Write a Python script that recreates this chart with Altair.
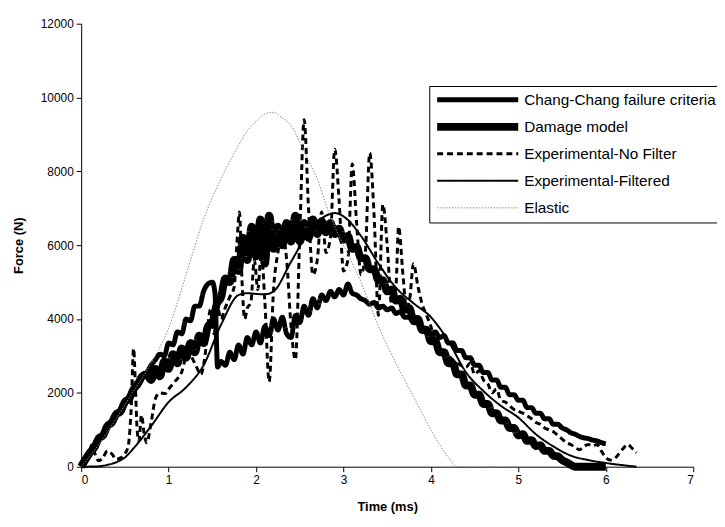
import altair as alt
import pandas as pd

SERIES = ["Chang-Chang failure criteria", "Damage model", "Experimental-No Filter",
          "Experimental-Filtered", "Elastic"]

# Chang-Chang failure criteria (lower thick curve, ends ~600 N at 6 ms)
chang_x = [0, 0.05, 0.1, 0.15, 0.2, 0.25, 0.3, 0.35, 0.4, 0.45, 0.5, 0.55, 0.6, 0.65, 0.7, 0.75,
           0.8, 0.85, 0.9, 0.95, 1.0, 1.05, 1.1, 1.15, 1.2, 1.25, 1.3, 1.35, 1.4, 1.45, 1.5, 1.53,
           1.56, 1.6, 1.65, 1.7, 1.75, 1.8, 1.85, 1.9, 1.95, 2.0, 2.05, 2.1, 2.15, 2.2, 2.25, 2.3,
           2.35, 2.4, 2.45, 2.5, 2.55, 2.6, 2.65, 2.7, 2.75, 2.8, 2.85, 2.9, 2.95, 3.0, 3.05, 3.1,
           3.15, 3.2, 3.25, 3.3, 3.35, 3.4, 3.45, 3.5, 3.55, 3.6, 3.65, 3.7, 3.75, 3.8, 3.85, 3.9,
           3.95, 4.0, 4.05, 4.1, 4.15, 4.2, 4.25, 4.3, 4.35, 4.4, 4.45, 4.5, 4.55, 4.6, 4.65, 4.7,
           4.75, 4.8, 4.85, 4.9, 4.95, 5.0, 5.05, 5.1, 5.15, 5.2, 5.25, 5.3, 5.35, 5.4, 5.45, 5.5,
           5.55, 5.6, 5.65, 5.7, 5.75, 5.8, 5.85, 5.9, 5.95, 6.0]
chang_y = [0, 200, 380, 520, 760, 850, 1100, 1200, 1420, 1500, 1750, 1850, 2100, 2250, 2450, 2550,
           2750, 2900, 3050, 3000, 3350, 3300, 3650, 3600, 4000, 3950, 4350, 4350, 4750, 4950, 5000, 4700,
           2700, 2850, 2750, 3100, 2900, 3300, 3050, 3500, 3300, 3650, 3350, 3800, 3550, 4000, 3700, 4050,
           3600, 3500, 4100, 3900, 4350, 4100, 4550, 4300, 4650, 4500, 4750, 4600, 4800, 4650, 4950, 4700,
           4650, 4550, 4500, 4400, 4450, 4300, 4350, 4250, 4300, 4150, 4200, 4050, 4050, 3900, 3900, 3750,
           3750, 3600, 3650, 3500, 3550, 3350, 3350, 3150, 3150, 2950, 2950, 2750, 2750, 2550, 2550, 2350,
           2350, 2150, 2150, 1950, 1950, 1800, 1800, 1600, 1600, 1450, 1450, 1300, 1300, 1150, 1150, 1050,
           1000, 920, 880, 820, 780, 760, 720, 700, 650, 620]

# Damage model (upper thick curve, ends at 0 N near 5.65 ms)
damage_x = [0, 0.05, 0.1, 0.15, 0.2, 0.25, 0.3, 0.35, 0.4, 0.45, 0.5, 0.55, 0.6, 0.65, 0.7, 0.75,
            0.8, 0.85, 0.9, 0.95, 1.0, 1.05, 1.1, 1.15, 1.2, 1.25, 1.3, 1.35, 1.4, 1.45, 1.5, 1.55,
            1.6, 1.65, 1.7, 1.75, 1.8, 1.85, 1.9, 1.95, 2.0, 2.05, 2.1, 2.15, 2.2, 2.25, 2.3, 2.35,
            2.4, 2.45, 2.5, 2.55, 2.6, 2.65, 2.7, 2.75, 2.8, 2.85, 2.9, 2.95, 3.0, 3.05, 3.1, 3.15,
            3.2, 3.25, 3.3, 3.35, 3.4, 3.45, 3.5, 3.55, 3.6, 3.65, 3.7, 3.75, 3.8, 3.85, 3.9, 3.95,
            4.0, 4.05, 4.1, 4.15, 4.2, 4.25, 4.3, 4.35, 4.4, 4.45, 4.5, 4.55, 4.6, 4.65, 4.7, 4.75,
            4.8, 4.85, 4.9, 4.95, 5.0, 5.05, 5.1, 5.15, 5.2, 5.25, 5.3, 5.35, 5.4, 5.45, 5.5, 5.55,
            5.6, 5.65, 5.7, 5.8, 5.9, 6.0]
damage_y = [0, 200, 380, 520, 760, 850, 1100, 1200, 1420, 1500, 1750, 1850, 2100, 2250, 2450, 2500,
            2350, 2650, 2450, 2850, 2650, 3050, 2800, 3200, 2950, 3350, 3100, 3550, 3350, 3800, 3900, 4400,
            4600, 5100, 5000, 5600, 5300, 6200, 5600, 6500, 5700, 6700, 5500, 6800, 5900, 6500, 6000, 6600,
            6100, 6800, 6100, 6600, 6200, 6700, 6300, 6650, 6350, 6600, 6300, 6450, 6150, 6250, 5900, 5950,
            5650, 5650, 5350, 5350, 5050, 5050, 4750, 4800, 4500, 4550, 4250, 4300, 4000, 4000, 3700, 3700,
            3400, 3400, 3100, 3100, 2800, 2800, 2500, 2500, 2200, 2200, 1950, 1950, 1700, 1700, 1450, 1450,
            1250, 1250, 1050, 1050, 850, 880, 700, 720, 560, 580, 430, 430, 300, 280, 180, 120,
            50, 0, 0, 0, 0, 0]

# Experimental - no filter (dashed, noisy)
nofilt_x = [0, 0.05, 0.1, 0.12, 0.15, 0.2, 0.25, 0.3, 0.35, 0.4, 0.45, 0.5, 0.54, 0.57, 0.6, 0.62,
            0.64, 0.66, 0.69, 0.72, 0.75, 0.8, 0.85, 0.9, 0.96, 1.0, 1.07, 1.15, 1.22, 1.3, 1.37, 1.41,
            1.48, 1.52, 1.56, 1.6, 1.64, 1.7, 1.75, 1.78, 1.81, 1.84, 1.87, 1.9, 1.94, 1.98, 2.02, 2.06,
            2.1, 2.15, 2.2, 2.25, 2.3, 2.35, 2.4, 2.45, 2.5, 2.55, 2.6, 2.65, 2.7, 2.75, 2.8, 2.85,
            2.9, 2.95, 3.0, 3.05, 3.1, 3.15, 3.2, 3.25, 3.3, 3.35, 3.4, 3.45, 3.5, 3.55, 3.6, 3.63,
            3.68, 3.72, 3.76, 3.8, 3.85, 3.9, 3.95, 4.0, 4.05, 4.1, 4.2, 4.3, 4.4, 4.45, 4.5, 4.55,
            4.6, 4.65, 4.7, 4.75, 4.8, 4.85, 4.9, 4.95, 5.0, 5.05, 5.1, 5.15, 5.2, 5.25, 5.3, 5.35,
            5.4, 5.45, 5.5, 5.55, 5.6, 5.65, 5.7, 5.75, 5.8, 5.85, 5.9, 5.95, 6.0, 6.05, 6.1, 6.15,
            6.2, 6.25, 6.3, 6.35]
nofilt_y = [0, 150, 450, 590, 400, 160, 250, 430, 350, 200, 240, 350, 590, 1500, 3200, 2200,
            1000, 700, 1400, 900, 650, 1200, 1850, 2000, 1980, 2100, 2300, 2570, 3100, 2800, 2500, 2900,
            4260, 3600, 4300, 4000, 4260, 4600, 4870, 6000, 6900, 5000, 4000, 4300, 4440, 5600, 4800, 5800,
            4500, 2300, 4800, 5800, 6300, 5600, 3800, 2900, 6300, 9400, 7000, 5200, 5600, 6900, 5800, 6200,
            8600, 7200, 5300, 5600, 8200, 6600, 5200, 5800, 8500, 6800, 4100, 7100, 6000, 4400, 4900, 6500,
            5200, 4300, 4600, 5500, 4900, 4400, 4100, 3800, 3400, 3150, 3000, 2800, 2700, 2800, 2500, 2600,
            2350, 2250, 2000, 2100, 1800, 1750, 1650, 1550, 1500, 1450, 1380, 1300, 1200, 1150, 1050, 1000,
            950, 850, 750, 650, 600, 520, 460, 550, 600, 560, 600, 420, 250, 180, 220, 350,
            500, 600, 500, 380]

# Experimental - filtered (thin solid, smooth)
filt_x = [0, 0.2, 0.3, 0.4, 0.5, 0.6, 0.8, 1.0, 1.2, 1.4, 1.6, 1.8, 1.9, 2.0, 2.1, 2.2, 2.4, 2.6,
          2.8, 2.9, 3.0, 3.2, 3.4, 3.6, 3.8, 4.0, 4.2, 4.4, 4.6, 4.8, 5.0, 5.2, 5.4, 5.6, 5.8, 6.0,
          6.2, 6.35]
filt_y = [0, 10, 50, 120, 250, 500, 1100, 1750, 2150, 2750, 3850, 4650, 4700, 4680, 4670, 4750, 5550, 6350,
          6800, 6870, 6780, 6250, 5500, 4850, 4430, 4050, 3400, 2560, 2050, 1650, 1330, 880, 550, 300, 180, 100,
          40, 0]

# Elastic (thin grey dotted)
elastic_x = [0, 0.2, 0.4, 0.6, 0.8, 1.0, 1.2, 1.4, 1.6, 1.8, 1.9, 2.0, 2.1, 2.2, 2.3, 2.4, 2.5, 2.6,
             2.7, 2.8, 2.9, 3.0, 3.2, 3.4, 3.6, 3.8, 4.0, 4.2, 4.3, 4.6, 5.0]
elastic_y = [0, 600, 1300, 2050, 2800, 3750, 5200, 6700, 7800, 8700, 9100, 9350, 9550, 9600, 9450, 9250, 8800, 8300,
             7800, 7100, 6500, 6000, 5000, 3800, 2800, 1900, 1000, 250, 0, 0, 0]

rows = []
for name, xs, ys in [(SERIES[0], chang_x, chang_y), (SERIES[1], damage_x, damage_y),
                     (SERIES[2], nofilt_x, nofilt_y), (SERIES[3], filt_x, filt_y),
                     (SERIES[4], elastic_x, elastic_y)]:
    for x, y in zip(xs, ys):
        rows.append({"series": name, "t": x, "f": y})
df = pd.DataFrame(rows)

legend = alt.Legend(
    title=None, orient="none", legendX=352, legendY=63,
    symbolType="stroke", symbolSize=6724, clipHeight=20, rowPadding=7.3,
    padding=4, labelOffset=2, labelFont="Liberation Sans", labelFontSize=15.5,
    labelColor="black", labelLimit=400, strokeColor="black", fillColor="white",
    symbolOpacity=1,
)

chart = alt.Chart(df).mark_line(interpolate="monotone", strokeJoin="round").encode(
    x=alt.X("t:Q", scale=alt.Scale(domain=[0, 7], nice=False),
            axis=alt.Axis(title="Time (ms)", values=[0, 1, 2, 3, 4, 5, 6, 7], format="d",
                          grid=False, titlePadding=15)),
    y=alt.Y("f:Q", scale=alt.Scale(domain=[0, 12000], nice=False),
            axis=alt.Axis(title="Force (N)", values=[0, 2000, 4000, 6000, 8000, 10000, 12000],
                          format="d", grid=False, titlePadding=15)),
    color=alt.Color("series:N", scale=alt.Scale(domain=SERIES,
                    range=["black", "black", "black", "black", "#8a8a8a"]), legend=legend),
    strokeDash=alt.StrokeDash("series:N", scale=alt.Scale(domain=SERIES,
                    range=[[1, 0], [1, 0], [6, 4], [1, 0], [1.5, 1.5]]), legend=legend),
    strokeWidth=alt.StrokeWidth("series:N", scale=alt.Scale(type="ordinal", domain=SERIES,
                    range=[5, 8, 3, 2, 1]), legend=legend),
).properties(
    width=619, height=448,
    autosize=alt.AutoSizeParams(type="none"),
    padding={"left": 74, "top": 13, "right": 24, "bottom": 50},
).configure_view(strokeWidth=0).configure_axis(
    domainColor="black", tickColor="black", labelColor="black", titleColor="black",
    labelFont="Liberation Sans", titleFont="Liberation Sans", labelFontSize=12,
    titleFontSize=13, titleFontWeight="bold", tickSize=5, labelPadding=3,
)

chart.save("out.html", embed_options={"renderer": "svg", "actions": False})
